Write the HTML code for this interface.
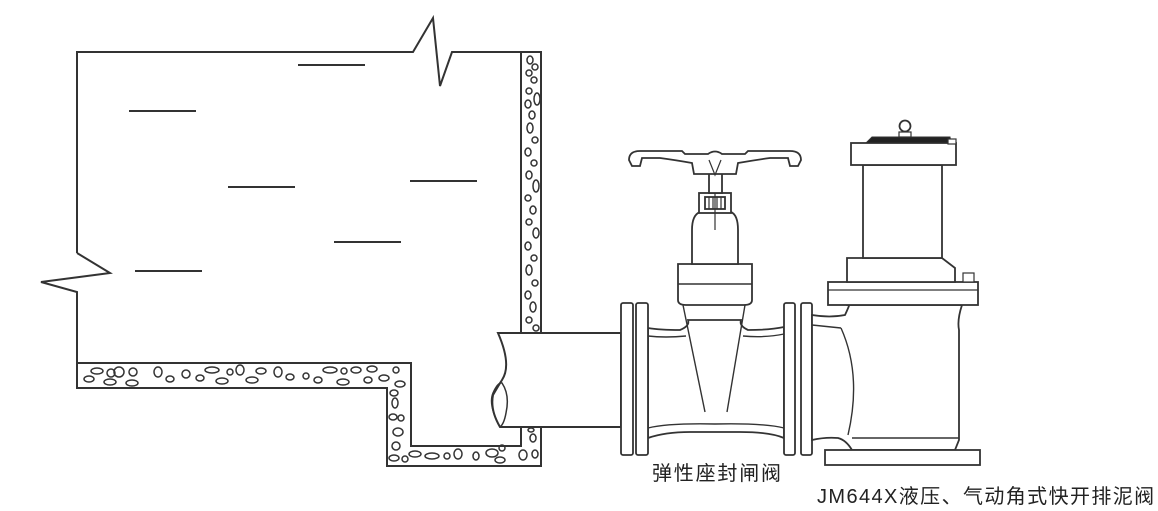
<!DOCTYPE html>
<html><head><meta charset="utf-8"><style>
html,body{margin:0;padding:0;background:#fff;}
svg{display:block;}
text{font-family:"Liberation Sans","Noto Sans CJK SC",sans-serif;fill:#222;}
</style></head><body>
<svg width="1158" height="511" viewBox="0 0 1158 511" xmlns="http://www.w3.org/2000/svg">
<g fill="none" stroke="#333" stroke-width="2" stroke-linejoin="miter">
<path d="M77,253 L77,52 L413,52 L433,18 L440,86 L452,52 L541,52 L541,333"/>
<path d="M77,253 L110,273 L41,282 L77,292 L77,388 L387,388 L387,466 L541,466 L541,427"/>
<path d="M521,52 L521,333"/>
<path d="M77,363 L411,363 L411,446 L521,446 L521,427"/>
<path d="M298,65 H365 M129,111 H196 M228,187 H295 M410,181 H477 M334,242 H401 M135,271 H202"/>
</g>
<g fill="none" stroke="#333" stroke-width="1.5">
<ellipse cx="530" cy="60" rx="3" ry="4"/><ellipse cx="535" cy="67" rx="3" ry="3"/><ellipse cx="529" cy="73" rx="3" ry="3"/><ellipse cx="534" cy="80" rx="3" ry="3"/>
<ellipse cx="529" cy="91" rx="3" ry="3"/><ellipse cx="537" cy="99" rx="3" ry="6"/><ellipse cx="528" cy="104" rx="3" ry="4"/><ellipse cx="532" cy="115" rx="3" ry="4"/>
<ellipse cx="530" cy="128" rx="3" ry="5"/><ellipse cx="535" cy="140" rx="3" ry="3"/><ellipse cx="528" cy="152" rx="3" ry="4"/><ellipse cx="534" cy="163" rx="3" ry="3"/>
<ellipse cx="529" cy="175" rx="3" ry="4"/><ellipse cx="536" cy="186" rx="3" ry="6"/><ellipse cx="528" cy="198" rx="3" ry="3"/><ellipse cx="533" cy="210" rx="3" ry="4"/>
<ellipse cx="529" cy="222" rx="3" ry="3"/><ellipse cx="536" cy="233" rx="3" ry="5"/><ellipse cx="528" cy="246" rx="3" ry="4"/><ellipse cx="534" cy="258" rx="3" ry="3"/>
<ellipse cx="529" cy="270" rx="3" ry="5"/><ellipse cx="535" cy="283" rx="3" ry="3"/><ellipse cx="528" cy="295" rx="3" ry="4"/><ellipse cx="533" cy="307" rx="3" ry="5"/>
<ellipse cx="529" cy="320" rx="3" ry="3"/><ellipse cx="536" cy="328" rx="3" ry="3"/>
<ellipse cx="531" cy="430" rx="3" ry="2"/><ellipse cx="533" cy="438" rx="3" ry="4"/>
<ellipse cx="97" cy="371" rx="6" ry="3"/><ellipse cx="89" cy="379" rx="5" ry="3"/><ellipse cx="111" cy="373" rx="4" ry="4"/><ellipse cx="119" cy="372" rx="5" ry="5"/><ellipse cx="133" cy="372" rx="4" ry="4"/><ellipse cx="110" cy="382" rx="6" ry="3"/><ellipse cx="132" cy="383" rx="6" ry="3"/>
<ellipse cx="158" cy="372" rx="4" ry="5"/><ellipse cx="170" cy="379" rx="4" ry="3"/><ellipse cx="186" cy="374" rx="4" ry="4"/><ellipse cx="200" cy="378" rx="4" ry="3"/><ellipse cx="212" cy="370" rx="7" ry="3"/><ellipse cx="230" cy="372" rx="3" ry="3"/><ellipse cx="240" cy="370" rx="4" ry="5"/>
<ellipse cx="222" cy="381" rx="6" ry="3"/><ellipse cx="261" cy="371" rx="5" ry="3"/><ellipse cx="252" cy="380" rx="6" ry="3"/><ellipse cx="278" cy="372" rx="4" ry="5"/><ellipse cx="290" cy="377" rx="4" ry="3"/><ellipse cx="306" cy="376" rx="3" ry="3"/><ellipse cx="318" cy="380" rx="4" ry="3"/>
<ellipse cx="330" cy="370" rx="7" ry="3"/><ellipse cx="344" cy="371" rx="3" ry="3"/><ellipse cx="356" cy="370" rx="5" ry="3"/><ellipse cx="343" cy="382" rx="6" ry="3"/><ellipse cx="372" cy="369" rx="5" ry="3"/><ellipse cx="368" cy="380" rx="4" ry="3"/><ellipse cx="384" cy="378" rx="5" ry="3"/><ellipse cx="396" cy="370" rx="3" ry="3"/><ellipse cx="400" cy="384" rx="5" ry="3"/>
<ellipse cx="394" cy="393" rx="4" ry="3"/><ellipse cx="395" cy="403" rx="3" ry="5"/><ellipse cx="393" cy="417" rx="4" ry="3"/><ellipse cx="401" cy="418" rx="3" ry="3"/><ellipse cx="398" cy="432" rx="5" ry="4"/><ellipse cx="396" cy="446" rx="4" ry="4"/>
<ellipse cx="394" cy="458" rx="5" ry="3"/><ellipse cx="405" cy="459" rx="3" ry="3"/><ellipse cx="415" cy="454" rx="6" ry="3"/><ellipse cx="432" cy="456" rx="7" ry="3"/><ellipse cx="447" cy="456" rx="3" ry="3"/><ellipse cx="458" cy="454" rx="4" ry="5"/>
<ellipse cx="476" cy="456" rx="3" ry="4"/><ellipse cx="492" cy="453" rx="6" ry="4"/><ellipse cx="502" cy="448" rx="3" ry="3"/><ellipse cx="500" cy="460" rx="5" ry="3"/><ellipse cx="523" cy="455" rx="4" ry="5"/><ellipse cx="535" cy="454" rx="3" ry="4"/>
</g>
<g fill="#fff" stroke="#333" stroke-width="2">
<path d="M498,333 L621,333 L621,427 L500,427 Q490,410 493,395 Q500,383 502,380 Q512,365 498,333 Z"/>
<path d="M500,427 Q488,405 493,393 Q498,382 502,383 Q510,395 506,413 Q504,424 500,427" fill="none" stroke-width="1.5"/>
</g>
<g fill="#fff" stroke="#333" stroke-width="1.8">
<path d="M648,328 Q660,330 680,330 Q690,326 688,320 L741,320 Q739,326 748,330 Q770,330 784,327 L784,438 Q770,432 740,432 L690,432 Q665,432 648,438 Z"/>
<path d="M648,336 Q665,338 686,336 M743,336 Q765,338 784,334 M648,428 Q668,423 715,424 Q765,423 784,428" fill="none" stroke-width="1.4"/>
<rect x="621" y="303" width="12" height="152" rx="2"/>
<rect x="636" y="303" width="12" height="152" rx="2"/>
<rect x="784" y="303" width="11" height="152" rx="2"/>
<rect x="801" y="303" width="11" height="152" rx="2"/>
<path d="M678,264 L752,264 L752,300 Q752,305 744,305 L686,305 Q678,305 678,300 Z"/>
<path d="M678,284 H752" fill="none" stroke-width="1.4"/>
<path d="M692,264 L692,230 Q692,215 700,212 L731,212 Q738,215 738,230 L738,264 Z"/>
<path d="M683,305 L705,412 M745,305 L727,412" fill="none" stroke-width="1.4"/>
<rect x="699" y="193" width="32" height="20"/>
<rect x="705" y="197" width="20" height="12"/>
<path d="M709,197 V209 M713,197 V209 M717,197 V209 M721,197 V209 M715,175 V230" fill="none" stroke-width="1.2"/>
<rect x="709" y="165" width="13" height="28"/>
<path d="M632,166 L629,160 Q629,151 640,151 L682,151 L685,154 L708,154 Q715,149 722,154 L745,154 L748,151 L790,151 Q801,151 801,160 L798,166 L790,166 L788,158 L770,158 Q755,160 738,163 L736,174 L694,174 L692,163 Q675,160 660,158 L642,158 L640,166 Z"/>
<path d="M709,160 L715,175 L721,160" fill="none" stroke-width="1.2"/>
</g>
<g fill="#fff" stroke="#333" stroke-width="1.8">
<path d="M812,315 Q830,318 845,315 Q852,300 848,305 L962,305 Q957,320 959,330 L959,440 Q955,450 955,450 L852,450 Q846,440 838,438 Q825,437 812,440 Z"/>
<path d="M841,328 Q862,375 848,435 M812,325 L841,328 M959,438 L852,438" fill="none" stroke-width="1.4"/>
<rect x="825" y="450" width="155" height="15"/>
<rect x="828" y="282" width="150" height="23"/>
<path d="M828,290 H978" fill="none" stroke-width="1.2"/>
<path d="M847,258 L942,258 L955,268 L955,282 L847,282 Z"/>
<rect x="863" y="165" width="79" height="93"/>
<rect x="851" y="143" width="105" height="22"/>
<path d="M866,143 L872,137 L950,137 L951,143 Z" fill="#222" stroke-width="1"/>
<rect x="948" y="139" width="8" height="5" stroke-width="1.2"/>
<circle cx="905" cy="126" r="5.5" stroke-width="1.8"/>
<rect x="899" y="132" width="12" height="5" stroke-width="1.2"/>
<rect x="963" y="273" width="11" height="9" stroke-width="1.2"/>
</g>
<text x="652" y="480" font-size="20" letter-spacing="1.8">弹性座封闸阀</text>
<text x="817" y="503" font-size="20" letter-spacing="1.4">JM644X液压、气动角式快开排泥阀</text>
</svg>
</body></html>
